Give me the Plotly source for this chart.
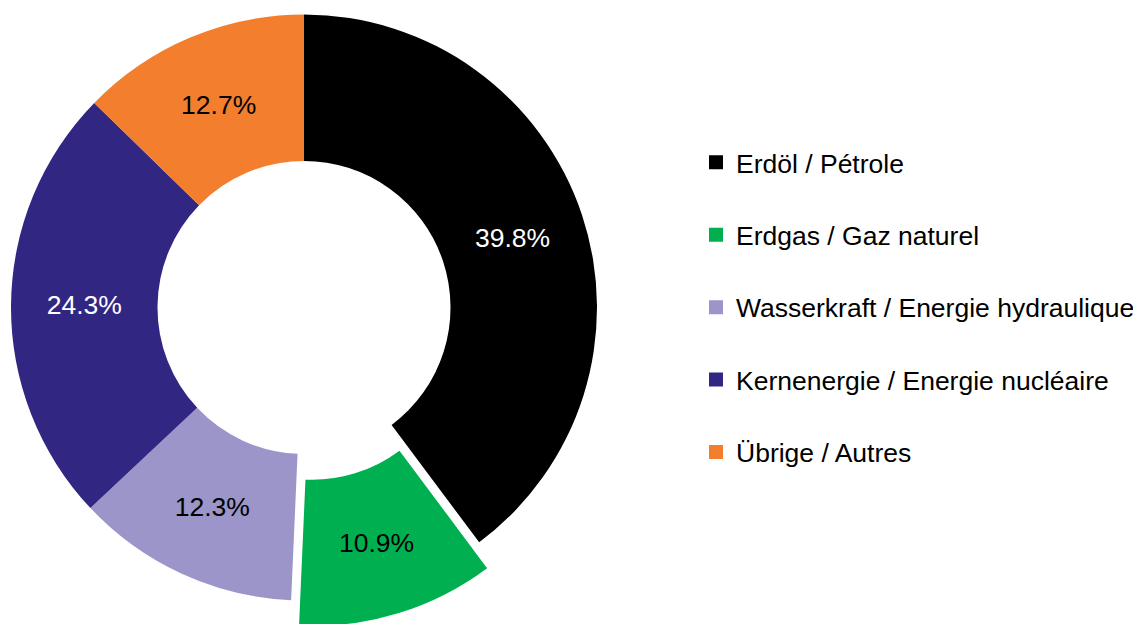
import plotly.graph_objects as go

labels = ["Erdöl / Pétrole", "Erdgas / Gaz naturel", "Wasserkraft / Energie hydraulique",
          "Kernenergie / Energie nucléaire", "Übrige / Autres"]
values = [39.8, 10.9, 12.3, 24.3, 12.7]
colors = ["#000000", "#00B050", "#9B95C9", "#312782", "#F37E2E"]
text_colors = ["#FFFFFF", "#000000", "#000000", "#FFFFFF", "#000000"]
exploded = [False, True, False, False, False]

FONT = "Liberation Sans, Arial, sans-serif"
FS = 26.5
W, H = 1141, 640
TRANSPARENT = "rgba(0,0,0,0)"

# ring geometry (pixels of the figure)
R = 293
CX, CY = 296, 299.5
# offset of the exploded slice
DX, DY = 7.9, 25.8


def dom(cx, cy, r):
    return dict(x=[(cx - r) / W, (cx + r) / W], y=[1 - (cy + r) / H, 1 - (cy - r) / H])


fig = go.Figure()

# main ring (exploded slice left transparent)
fig.add_trace(go.Pie(
    labels=labels, values=values, sort=False, direction="clockwise", rotation=0,
    hole=0.5,
    marker=dict(colors=[TRANSPARENT if e else c for c, e in zip(colors, exploded)],
                line=dict(width=0)),
    texttemplate=["" if e else "%{percent:.1%}" for e in exploded],
    textposition="inside", insidetextorientation="horizontal",
    insidetextfont=dict(color=text_colors, size=FS, family=FONT),
    showlegend=False, hoverinfo="label+percent",
    domain=dom(CX, CY, R),
))

# exploded slice, same ring shifted outward
fig.add_trace(go.Pie(
    labels=labels, values=values, sort=False, direction="clockwise", rotation=0,
    hole=0.5,
    marker=dict(colors=[c if e else TRANSPARENT for c, e in zip(colors, exploded)],
                line=dict(width=0)),
    texttemplate=["%{percent:.1%}" if e else "" for e in exploded],
    textposition="inside", insidetextorientation="horizontal",
    insidetextfont=dict(color=text_colors, size=FS, family=FONT),
    showlegend=False, hoverinfo="skip",
    domain=dom(CX + DX, CY + DY, R),
))

for lab, col in zip(labels, colors):
    fig.add_trace(go.Scatter(
        x=[None], y=[None], mode="markers", name=lab, legendgroup=lab,
        marker=dict(symbol="square", size=14, color=col), hoverinfo="skip",
    ))

fig.update_layout(
    width=W, height=H,
    margin=dict(l=0, r=0, t=0, b=0),
    paper_bgcolor="white", plot_bgcolor="white",
    font=dict(family=FONT, size=FS, color="#000000"),
    xaxis=dict(visible=False), yaxis=dict(visible=False),
    legend=dict(x=688 / W, y=1 - 299.5 / H, xanchor="left", yanchor="middle",
                font=dict(size=FS, family=FONT), tracegroupgap=35,
                bgcolor="rgba(0,0,0,0)", itemclick=False, itemdoubleclick=False),
)

fig.write_html("out.html")
